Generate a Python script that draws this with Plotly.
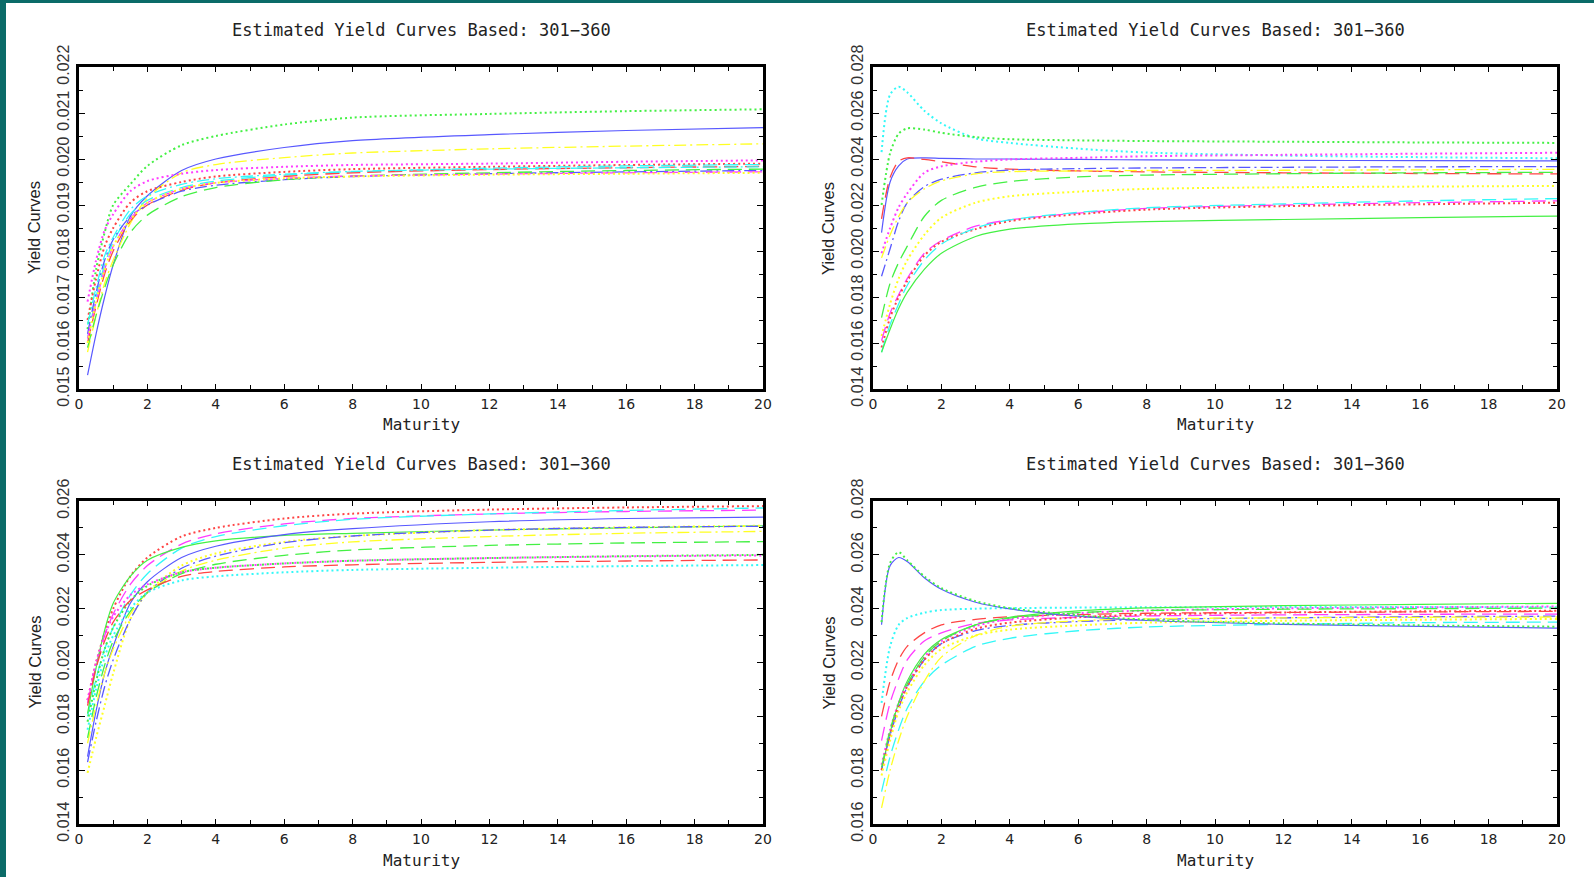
import plotly.graph_objects as go

# Maturities (years) at which curves are sampled
maturity = [0.25, 0.5, 0.75, 1, 1.5, 2, 3, 4, 6, 8, 12, 16, 20]

# ---------- Panel 1 (top-left) ----------
p1_green_dot   = [0.0163, 0.0176, 0.0184, 0.0190, 0.01945, 0.01985, 0.0203, 0.0205, 0.02075, 0.0209, 0.02098, 0.02104, 0.02108]
p1_blue_solid  = [0.0153, 0.0162, 0.0170, 0.0177, 0.01875, 0.0192, 0.01975, 0.0200, 0.02025, 0.0204, 0.02053, 0.02062, 0.02068]
p1_yellow_dd   = [0.0158, 0.0166, 0.0173, 0.0178, 0.0186, 0.01915, 0.0197, 0.01988, 0.02003, 0.02013, 0.02022, 0.02028, 0.02033]
p1_magenta_dot = [0.0169, 0.0178, 0.01845, 0.0188, 0.0193, 0.01952, 0.01968, 0.01976, 0.01983, 0.01987, 0.0199, 0.01994, 0.01997]
p1_red_dot     = [0.0165, 0.0174, 0.0181, 0.0185, 0.01905, 0.0193, 0.0195, 0.01962, 0.01972, 0.01978, 0.01983, 0.01987, 0.0199]
p1_cyan_dash   = [0.0161, 0.0170, 0.0177, 0.0182, 0.0188, 0.0191, 0.01938, 0.01952, 0.01965, 0.01972, 0.0198, 0.01985, 0.01988]
p1_red_dash    = [0.0160, 0.0168, 0.0175, 0.0180, 0.01865, 0.0190, 0.01932, 0.01948, 0.01962, 0.0197, 0.01977, 0.01981, 0.01984]
p1_blue_dd     = [0.0162, 0.0171, 0.0178, 0.01825, 0.01875, 0.0190, 0.0193, 0.01943, 0.01955, 0.01962, 0.01968, 0.01972, 0.01975]
p1_green_dash  = [0.0159, 0.0166, 0.0172, 0.0177, 0.0184, 0.01878, 0.01918, 0.01938, 0.01955, 0.01963, 0.0197, 0.01975, 0.01978]
p1_magenta_dash= [0.0161, 0.0169, 0.0176, 0.0181, 0.0187, 0.01905, 0.01935, 0.01948, 0.01958, 0.01963, 0.01967, 0.0197, 0.01972]
p1_yellow_dot  = [0.0160, 0.0169, 0.0176, 0.0181, 0.01868, 0.01905, 0.01935, 0.01948, 0.01958, 0.01962, 0.01966, 0.01968, 0.0197]
p1_cyan_dd     = [0.0164, 0.0172, 0.0179, 0.0183, 0.0189, 0.0192, 0.01945, 0.01957, 0.01967, 0.01973, 0.01978, 0.01981, 0.01983]

# ---------- Panel 2 (top-right) ----------
p2_cyan_dot    = [0.0243, 0.0268, 0.02714, 0.0269, 0.0261, 0.02555, 0.0249, 0.0247, 0.02445, 0.02428, 0.02415, 0.02408, 0.02403]
p2_green_dot   = [0.0220, 0.02425, 0.0251, 0.02533, 0.02528, 0.02514, 0.02495, 0.02486, 0.02481, 0.02478, 0.02475, 0.02472, 0.0247]
p2_blue_solid  = [0.0208, 0.0230, 0.0237, 0.0240, 0.02405, 0.02403, 0.0240, 0.0240, 0.02398, 0.02396, 0.02394, 0.02393, 0.02392]
p2_red_dash    = [0.0214, 0.0232, 0.0239, 0.02405, 0.02398, 0.02388, 0.02366, 0.02356, 0.02348, 0.02344, 0.0234, 0.02337, 0.02335]
p2_magenta_dot = [0.0199, 0.0210, 0.0219, 0.0225, 0.0234, 0.02368, 0.02388, 0.02398, 0.02405, 0.02412, 0.02418, 0.02423, 0.02427]
p2_blue_dd     = [0.0189, 0.0201, 0.0213, 0.0221, 0.0228, 0.02312, 0.0234, 0.02352, 0.02358, 0.02361, 0.02364, 0.02366, 0.02367]
p2_yellow_dd   = [0.0197, 0.0207, 0.0215, 0.0221, 0.0227, 0.02305, 0.02335, 0.02345, 0.02348, 0.0235, 0.02351, 0.02353, 0.02355]
p2_green_dash  = [0.0171, 0.0186, 0.0195, 0.0202, 0.0215, 0.0222, 0.02277, 0.02302, 0.02322, 0.0233, 0.02336, 0.0234, 0.02342]
p2_yellow_dot  = [0.0163, 0.0177, 0.0188, 0.0196, 0.0207, 0.02145, 0.0221, 0.02238, 0.02258, 0.0227, 0.02277, 0.0228, 0.02283]
p2_magenta_dash= [0.0161, 0.0173, 0.0181, 0.0188, 0.0199, 0.02045, 0.02108, 0.02135, 0.02165, 0.02185, 0.022, 0.0221, 0.02218]
p2_red_dot     = [0.0158, 0.0171, 0.0180, 0.0187, 0.0198, 0.0204, 0.02095, 0.0213, 0.0216, 0.0218, 0.02195, 0.02203, 0.0221]
p2_cyan_dash   = [0.0156, 0.0168, 0.0177, 0.0185, 0.0196, 0.0203, 0.0210, 0.02135, 0.02168, 0.02188, 0.02205, 0.02218, 0.02228]
p2_green_solid = [0.0156, 0.0166, 0.0175, 0.0182, 0.0192, 0.0199, 0.02063, 0.02095, 0.02118, 0.02128, 0.02137, 0.02145, 0.02152]

# ---------- Panel 3 (bottom-left) ----------
p3_red_dot     = [0.0186, 0.0200, 0.0211, 0.0220, 0.0232, 0.0239, 0.02468, 0.025, 0.02535, 0.02553, 0.02568, 0.02576, 0.02581]
p3_magenta_dash= [0.0185, 0.0199, 0.0210, 0.0218, 0.0229, 0.0236, 0.0244, 0.02478, 0.02515, 0.02535, 0.02552, 0.02561, 0.02566]
p3_cyan_dash   = [0.0180, 0.0194, 0.0205, 0.0213, 0.0225, 0.0233, 0.02425, 0.02468, 0.02508, 0.02532, 0.02552, 0.02565, 0.02574]
p3_green_solid = [0.0181, 0.0198, 0.0212, 0.0222, 0.0232, 0.0238, 0.02428, 0.02452, 0.02472, 0.0248, 0.02492, 0.025, 0.02508]
p3_blue_solid  = [0.0165, 0.0182, 0.0196, 0.0206, 0.0222, 0.0230, 0.0239, 0.02432, 0.02475, 0.02497, 0.02523, 0.02535, 0.0254]
p3_yellow_dot  = [0.0159, 0.0172, 0.0184, 0.0196, 0.0216, 0.0226, 0.0236, 0.02405, 0.02448, 0.0247, 0.02492, 0.02502, 0.02508]
p3_blue_dd     = [0.0163, 0.0178, 0.0191, 0.0201, 0.0216, 0.0226, 0.0235, 0.02395, 0.02445, 0.0247, 0.02492, 0.02502, 0.02506]
p3_yellow_dd   = [0.0170, 0.0184, 0.0196, 0.0205, 0.0218, 0.0226, 0.0234, 0.0238, 0.02425, 0.02448, 0.02468, 0.0248, 0.02487]
p3_green_dash  = [0.0172, 0.0187, 0.0199, 0.0208, 0.0219, 0.0226, 0.0233, 0.02365, 0.02398, 0.02418, 0.02435, 0.02444, 0.02449]
p3_green_dot   = [0.0178, 0.0193, 0.0205, 0.0213, 0.0223, 0.02285, 0.02335, 0.02352, 0.02368, 0.02378, 0.02388, 0.02395, 0.024]
p3_magenta_dot = [0.0186, 0.0200, 0.0210, 0.0217, 0.0225, 0.0229, 0.02335, 0.02352, 0.02368, 0.02378, 0.02388, 0.02394, 0.02398]
p3_red_dash    = [0.0184, 0.0198, 0.0208, 0.0215, 0.0223, 0.0227, 0.0232, 0.02338, 0.02355, 0.02363, 0.02372, 0.02377, 0.02381]
p3_cyan_dot    = [0.0175, 0.0190, 0.0202, 0.0210, 0.0220, 0.0226, 0.02305, 0.0232, 0.02335, 0.02344, 0.02352, 0.02358, 0.02362]

# ---------- Panel 4 (bottom-right) ----------
p4_blue_solid  = [0.0234, 0.0256, 0.0259, 0.02575, 0.02515, 0.02472, 0.02424, 0.02399, 0.02372, 0.02356, 0.02342, 0.02334, 0.02328]
p4_green_dot   = [0.0235, 0.0257, 0.0261, 0.0258, 0.0252, 0.02476, 0.02428, 0.02402, 0.02375, 0.02359, 0.02345, 0.02338, 0.02333]
p4_cyan_dot    = [0.0205, 0.0226, 0.0234, 0.02365, 0.02385, 0.02395, 0.024, 0.02402, 0.02404, 0.02405, 0.02406, 0.02406, 0.02405]
p4_red_dash    = [0.0200, 0.0213, 0.0221, 0.0226, 0.0231, 0.0234, 0.0236, 0.0237, 0.02378, 0.02383, 0.02386, 0.02388, 0.0239]
p4_magenta_dash= [0.0191, 0.0205, 0.0214, 0.0221, 0.0228, 0.0231, 0.02345, 0.02358, 0.02368, 0.02373, 0.02377, 0.02379, 0.0238]
p4_green_solid = [0.0180, 0.0194, 0.0205, 0.0213, 0.0223, 0.02285, 0.0234, 0.02368, 0.02392, 0.02403, 0.02411, 0.02416, 0.0242]
p4_magenta_dot = [0.0182, 0.0195, 0.0205, 0.0212, 0.0222, 0.0228, 0.02335, 0.02362, 0.02383, 0.02393, 0.02401, 0.02405, 0.02408]
p4_blue_dd     = [0.0180, 0.0193, 0.0203, 0.0211, 0.0221, 0.0227, 0.02318, 0.02338, 0.02352, 0.0236, 0.02366, 0.0237, 0.02372]
p4_red_dot     = [0.0180, 0.0193, 0.0204, 0.0211, 0.0221, 0.0227, 0.02325, 0.02348, 0.02368, 0.02378, 0.02386, 0.0239, 0.02392]
p4_yellow_dot  = [0.0178, 0.0191, 0.0202, 0.0209, 0.0219, 0.0225, 0.0230, 0.02322, 0.02338, 0.02348, 0.02355, 0.02359, 0.02362]
p4_cyan_dash   = [0.0172, 0.0185, 0.0195, 0.0203, 0.0213, 0.0219, 0.0226, 0.0229, 0.02318, 0.02332, 0.02342, 0.02348, 0.0235]
p4_yellow_dd   = [0.0166, 0.0180, 0.0191, 0.0200, 0.0213, 0.0222, 0.0230, 0.02335, 0.02355, 0.02362, 0.02366, 0.02368, 0.02369]
p4_green_dash  = [0.0181, 0.0195, 0.0205, 0.0212, 0.0222, 0.0228, 0.0234, 0.02365, 0.02385, 0.02393, 0.02398, 0.024, 0.02402]

# y-axis ranges and tick steps per panel
y_ranges = [[0.015, 0.022], [0.014, 0.028], [0.014, 0.026], [0.016, 0.028]]
y_dticks = [0.001, 0.002, 0.002, 0.002]
title_text = "Estimated Yield Curves Based: 301\u2212360"

# ---------- styles ----------
COL = {"blue": "#5858ff", "green": "#44f044", "yellow": "#ffff22", "red": "#ff4444",
       "cyan": "#33f8f8", "magenta": "#ff3cff"}
DASH = {"solid": ("solid", 1.2), "dot": ("2px,3px", 2.0), "dash": ("7px,4px", 1.3),
        "dd": ("12px,4px,2px,4px", 1.3), "ld": ("14px,7px", 1.3)}

panels = [
    [(p1_green_dot, "green", "dot"), (p1_blue_solid, "blue", "solid"), (p1_yellow_dd, "yellow", "dd"),
     (p1_magenta_dot, "magenta", "dot"), (p1_red_dot, "red", "dot"), (p1_cyan_dash, "cyan", "ld"),
     (p1_red_dash, "red", "ld"), (p1_blue_dd, "blue", "dd"), (p1_green_dash, "green", "ld"),
     (p1_magenta_dash, "magenta", "ld"), (p1_yellow_dot, "yellow", "dot"), (p1_cyan_dd, "cyan", "dd")],
    [(p2_cyan_dot, "cyan", "dot"), (p2_green_dot, "green", "dot"), (p2_blue_solid, "blue", "solid"),
     (p2_red_dash, "red", "ld"), (p2_magenta_dot, "magenta", "dot"), (p2_blue_dd, "blue", "dd"),
     (p2_yellow_dd, "yellow", "dd"), (p2_green_dash, "green", "ld"), (p2_yellow_dot, "yellow", "dot"),
     (p2_magenta_dash, "magenta", "ld"), (p2_red_dot, "red", "dot"), (p2_cyan_dash, "cyan", "ld"),
     (p2_green_solid, "green", "solid")],
    [(p3_red_dot, "red", "dot"), (p3_magenta_dash, "magenta", "ld"), (p3_cyan_dash, "cyan", "ld"),
     (p3_green_solid, "green", "solid"), (p3_blue_solid, "blue", "solid"), (p3_yellow_dot, "yellow", "dot"),
     (p3_blue_dd, "blue", "dd"), (p3_yellow_dd, "yellow", "dd"), (p3_green_dash, "green", "ld"),
     (p3_green_dot, "green", "dot"), (p3_magenta_dot, "magenta", "dot"), (p3_red_dash, "red", "ld"),
     (p3_cyan_dot, "cyan", "dot")],
    [(p4_cyan_dot, "cyan", "dot"), (p4_red_dash, "red", "ld"), (p4_magenta_dash, "magenta", "ld"),
     (p4_green_solid, "green", "solid"), (p4_magenta_dot, "magenta", "dot"), (p4_blue_dd, "blue", "dd"),
     (p4_red_dot, "red", "dot"), (p4_yellow_dot, "yellow", "dot"), (p4_cyan_dash, "cyan", "ld"),
     (p4_yellow_dd, "yellow", "dd"), (p4_green_dash, "green", "ld"),
     (p4_blue_solid, "blue", "solid"), (p4_green_dot, "green", "dot")],
]

W, H = 1594, 877
# panel pixel boxes: left, right, top, bottom
boxes = [(79, 763, 67, 389), (873, 1557, 67, 389), (79, 763, 501, 824), (873, 1557, 501, 824)]

fig = go.Figure()
layout = dict(template="none", width=W, height=H, margin=dict(l=0, r=0, t=0, b=0, pad=0, autoexpand=False),
              paper_bgcolor="white", plot_bgcolor="white", showlegend=False)
annotations = []
for i, (curves, box, yr, dt) in enumerate(zip(panels, boxes, y_ranges, y_dticks)):
    k = "" if i == 0 else str(i + 1)
    for vals, c, d in curves:
        dash, w = DASH[d]
        fig.add_trace(go.Scatter(x=maturity, y=vals, mode="lines", xaxis="x" + k, yaxis="y" + k,
                                 line=dict(color=COL[c], dash=dash, width=w, shape="spline", smoothing=0.8),
                                 hoverinfo="skip"))
    l, r, t, b = box
    layout["xaxis" + k] = dict(domain=[l / W, r / W], anchor="y" + k, range=[0, 20], dtick=2, tick0=0,
                               automargin=False,
                               ticks="inside", ticklen=5, tickwidth=1.3, tickcolor="black",
                               minor=dict(dtick=1, ticks="inside", ticklen=4, tickcolor="black", tickwidth=1.1),
                               showline=True, linewidth=3, linecolor="black", mirror="allticks",
                               showgrid=False, zeroline=False,
                               tickfont=dict(family="DejaVu Sans", size=14, color="#222"))
    layout["yaxis" + k] = dict(domain=[1 - b / H, 1 - t / H], anchor="x" + k, range=yr, dtick=dt, tick0=yr[0],
                               automargin=False,
                               ticks="inside", ticklen=6, tickwidth=1.3, tickcolor="black",
                               minor=dict(dtick=dt / 2, ticks="inside", ticklen=4, tickcolor="black", tickwidth=1.1),
                               showline=True, linewidth=3, linecolor="black", mirror="allticks",
                               showgrid=False, zeroline=False, tickangle=-90, tickformat=".3f",
                               ticklabelstandoff=1,
                               tickfont=dict(family="Liberation Sans", size=16, color="#333"))
    cx = (l + r) / 2 / W
    annotations.append(dict(text=title_text, x=cx, y=1 - (t - 37) / H, xref="paper", yref="paper",
                            showarrow=False, xanchor="center", yanchor="middle",
                            font=dict(family="DejaVu Sans Mono", size=17, color="#222")))
    annotations.append(dict(text="Maturity", x=cx, y=1 - (b + 36) / H, xref="paper", yref="paper",
                            showarrow=False, xanchor="center", yanchor="middle",
                            font=dict(family="DejaVu Sans Mono", size=16, color="#222")))
    annotations.append(dict(text="Yield Curves", x=(l - 45) / W, y=1 - (t + b) / 2 / H, xref="paper",
                            yref="paper", showarrow=False, xanchor="center", yanchor="middle", textangle=-90,
                            font=dict(family="Liberation Sans", size=16.5, color="#222")))

layout["annotations"] = annotations
layout["shapes"] = [
    dict(type="rect", xref="paper", yref="paper", x0=0, x1=6 / W, y0=0, y1=1,
         fillcolor="#0b6b68", line=dict(width=0), layer="above"),
    dict(type="rect", xref="paper", yref="paper", x0=0, x1=1, y0=1 - 3 / H, y1=1,
         fillcolor="#0b6b68", line=dict(width=0), layer="above"),
]
fig.update_layout(**layout)
fig.write_html("out.html")
